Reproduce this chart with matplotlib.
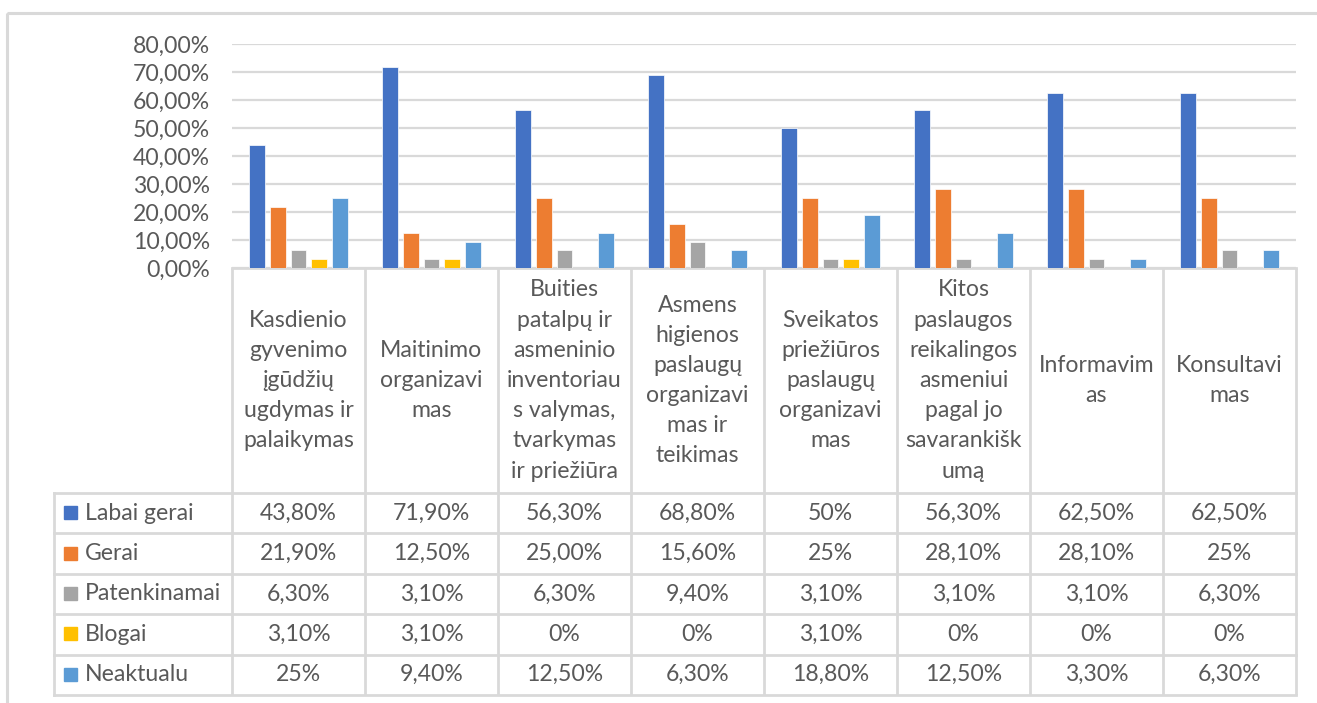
import matplotlib
matplotlib.use("Agg")
import matplotlib.pyplot as plt
from matplotlib.patches import Rectangle
import numpy as np

# ---------------- data ----------------
categories = [
    "Kasdienio\ngyvenimo\nįgūdžių\nugdymas ir\npalaikymas",
    "Maitinimo\norganizavi\nmas",
    "Buities\npatalpų ir\nasmeninio\ninventoriau\ns valymas,\ntvarkymas\nir priežiūra",
    "Asmens\nhigienos\npaslaugų\norganizavi\nmas ir\nteikimas",
    "Sveikatos\npriežiūros\npaslaugų\norganizavi\nmas",
    "Kitos\npaslaugos\nreikalingos\nasmeniui\npagal jo\nsavarankišk\numą",
    "Informavim\nas",
    "Konsultavi\nmas",
]
series_names = ["Labai gerai", "Gerai", "Patenkinamai", "Blogai", "Neaktualu"]
labai_gerai = [0.438, 0.719, 0.563, 0.688, 0.50, 0.563, 0.625, 0.625]
gerai = [0.219, 0.125, 0.25, 0.156, 0.25, 0.281, 0.281, 0.25]
patenkinamai = [0.063, 0.031, 0.063, 0.094, 0.031, 0.031, 0.031, 0.063]
blogai = [0.031, 0.031, 0.0, 0.0, 0.031, 0.0, 0.0, 0.0]
neaktualu = [0.25, 0.094, 0.125, 0.063, 0.188, 0.125, 0.033, 0.063]

labels_labai_gerai = ["43,80%", "71,90%", "56,30%", "68,80%", "50%", "56,30%", "62,50%", "62,50%"]
labels_gerai = ["21,90%", "12,50%", "25,00%", "15,60%", "25%", "28,10%", "28,10%", "25%"]
labels_patenkinamai = ["6,30%", "3,10%", "6,30%", "9,40%", "3,10%", "3,10%", "3,10%", "6,30%"]
labels_blogai = ["3,10%", "3,10%", "0%", "0%", "3,10%", "0%", "0%", "0%"]
labels_neaktualu = ["25%", "9,40%", "12,50%", "6,30%", "18,80%", "12,50%", "3,30%", "6,30%"]

y_ticks = [0.0, 0.1, 0.2, 0.3, 0.4, 0.5, 0.6, 0.7, 0.8]
y_tick_labels = ["0,00%", "10,00%", "20,00%", "30,00%", "40,00%", "50,00%", "60,00%", "70,00%", "80,00%"]

series_values = [labai_gerai, gerai, patenkinamai, blogai, neaktualu]
series_labels = [labels_labai_gerai, labels_gerai, labels_patenkinamai, labels_blogai, labels_neaktualu]
colors = ["#4472C4", "#ED7D31", "#A5A5A5", "#FFC000", "#5B9BD5"]

# ---------------- layout (pixels) ----------------
W, H = 1317, 703
plot_left, plot_right = 232, 1296
plot_top, plot_bottom = 44, 268
header_bottom = 493
row_h = 40.4
table_left = 54
text_color = "#595959"
line_color = "#D9D9D9"
fs = 16.6

plt.rcParams["font.family"] = ["Lato", "DejaVu Sans"]

fig = plt.figure(figsize=(W / 100, H / 100), dpi=100)
bg = fig.add_axes([0, 0, 1, 1])
bg.set_xlim(0, W)
bg.set_ylim(H, 0)
bg.axis("off")

# outer chart border
bg.add_patch(Rectangle((7, 13), W + 20, H + 20, fill=False, edgecolor=line_color, lw=2.2))

ax = fig.add_axes([plot_left / W, (H - plot_bottom) / H,
                   (plot_right - plot_left) / W, (plot_bottom - plot_top) / H])
n = len(categories)
x = np.arange(n)
step = 0.155
bw = 0.12
for i, (vals, c) in enumerate(zip(series_values, colors)):
    ax.bar(x + (i - 2) * step, vals, width=bw, color=c, edgecolor="white", linewidth=0.5, zorder=3)
ax.set_xlim(-0.5, n - 0.5)
ax.set_ylim(0, 0.8)
ax.set_yticks(y_ticks)
ax.set_yticklabels(y_tick_labels, color=text_color, fontsize=fs)
ax.tick_params(axis="y", length=0, pad=16)
ax.set_xticks([])
ax.grid(axis="y", color=line_color, lw=1.6, zorder=0)
for s in ax.spines.values():
    s.set_visible(False)
ax.patch.set_alpha(0)

# ---------------- data table ----------------
col_w = (plot_right - plot_left) / n
lw_t = 2.0
table_bottom = header_bottom + row_h * len(series_names)
for j in range(n + 1):
    xx = plot_left + j * col_w
    bg.plot([xx, xx], [plot_bottom, table_bottom], color=line_color, lw=lw_t, solid_capstyle="butt")
bg.plot([table_left, table_left], [header_bottom, table_bottom], color=line_color, lw=lw_t)
bg.plot([plot_left, plot_right], [plot_bottom, plot_bottom], color=line_color, lw=lw_t)
for r in range(len(series_names) + 1):
    yy = header_bottom + r * row_h
    bg.plot([table_left, plot_right], [yy, yy], color=line_color, lw=lw_t)

for j, cat in enumerate(categories):
    cx = plot_left + (j + 0.5) * col_w
    bg.text(cx, (plot_bottom + header_bottom) / 2, cat, ha="center", va="center",
            fontsize=fs, color=text_color, linespacing=1.54)

for r, (name, c, labs) in enumerate(zip(series_names, colors, series_labels)):
    cy = header_bottom + (r + 0.5) * row_h
    bg.add_patch(Rectangle((64, cy - 7), 13, 13, color=c))
    bg.text(85, cy, name, ha="left", va="center", fontsize=fs, color=text_color)
    for j, lab in enumerate(labs):
        cx = plot_left + (j + 0.5) * col_w
        bg.text(cx, cy, lab, ha="center", va="center", fontsize=fs, color=text_color)

fig.savefig("out.png", dpi=100)
